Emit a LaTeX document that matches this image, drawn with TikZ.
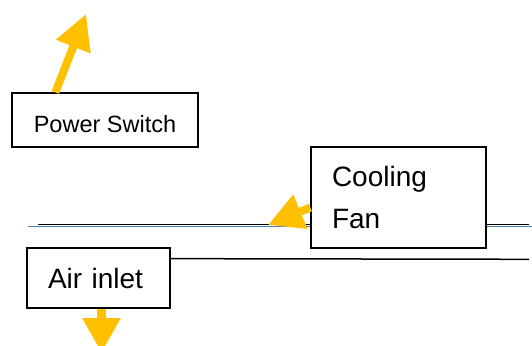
\documentclass[tikz,border=0pt]{standalone}
\usepackage{fontspec}
\setmainfont{Liberation Sans}
\usetikzlibrary{arrows.meta, calc}
\definecolor{arrowgold}{RGB}{255,192,0}
\definecolor{railblue}{RGB}{79,129,189}

\begin{document}
\begin{tikzpicture}[
    x=1pt, y=-1pt,
    box/.style={rectangle, draw, fill=white, line width=1.3pt, inner sep=0pt},
    flow/.style={-{Triangle[length=35pt, width=35pt]}, line width=8pt, draw=arrowgold, fill=arrowgold},
    rail/.style={line width=1.5pt}
]
    \useasboundingbox (0,0) rectangle (532,345);
    \clip (0,0) rectangle (532,345);

    % Rails
    \coordinate (blueL) at (28,226.7);
    \coordinate (blueR) at (532,226.7);
    \coordinate (railL) at (38,224.7);
    \coordinate (railR) at (529,224.7);
    \coordinate (lowR) at (529,259.3);
    \draw[rail, draw=railblue] (blueL) -- (blueR);
    \draw[rail] (railL) -- (railR);

    % Boxes
    \node[box, minimum width=186pt, minimum height=54pt, text height=24pt, text depth=0pt,
          font=\fontsize{23.5pt}{28pt}\selectfont] (switch) at (105,120) {Power Switch};
    \node[box, minimum height=101pt, text width=133pt, inner xsep=21pt, align=left,
          font=\fontsize{28pt}{41.7pt}\selectfont] (fan) at (398.5,197.5) {Cooling\\Fan};
    \node[box, minimum height=60pt, text width=101pt, inner xsep=21pt, align=left,
          font=\fontsize{28pt}{32pt}\selectfont] (inlet) at (98.5,278) {Air inlet};

    % Free ends
    \coordinate (switchTip) at (86,14);
    \coordinate (fanTip) at (268,225);
    \coordinate (inletTip) at (101.5,353);

    % Arrows
    \draw[rail] ($(inlet.north east)+(0,11.3)$) -- (lowR);
    \draw[flow] ($(switch.north west)+(44,0)$) -- (switchTip);
    \draw[flow] ($(fan.west)+(0,10)$) -- (fanTip);
    \draw[flow, line width=9pt, -{Triangle[length=35pt, width=36pt]}] ($(inlet.south)+(3,0)$) -- (inletTip);

\end{tikzpicture}
\end{document}
